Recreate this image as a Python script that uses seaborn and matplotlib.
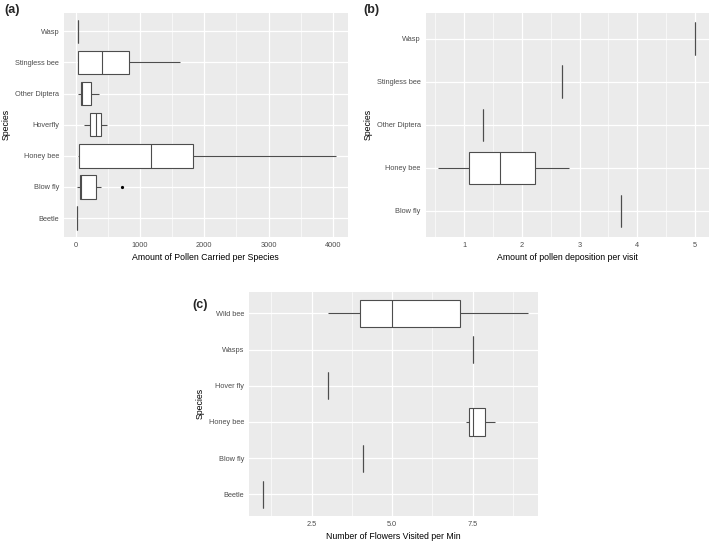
import numpy as np
import pandas as pd
import matplotlib.pyplot as plt
import seaborn as sns
from matplotlib.ticker import MultipleLocator

species_a = ["Wasp", "Stingless bee", "Other Diptera", "Hoverfly", "Honey bee", "Blow fly", "Beetle"]
values_a = [
    [30],
    [30, 30, 418, 826, 1618],
    [41, 77, 103, 247, 366],
    [134, 227, 310, 397, 485],
    [30, 60, 1171, 1822, 4050],
    [25, 50, 71, 76, 82, 200, 325, 397, 717],
    [15],
]

# (b) pollen deposition per visit
species_b = ["Wasp", "Stingless bee", "Other Diptera", "Honey bee", "Blow fly"]
values_b = [
    [5.0],
    [2.69],
    [1.32],
    [0.555, 1.09, 1.62, 2.225, 2.815],
    [3.72],
]

# (c) flowers visited per minute
species_c = ["Wild bee", "Wasps", "Hover fly", "Honey bee", "Blow fly", "Beetle"]
values_c = [
    [3.0, 4.0, 5.0, 7.12, 9.22],
    [7.5],
    [3.0],
    [7.31, 7.38, 7.5, 7.87, 8.2],
    [4.1],
    [1.0],
]


def to_long(species, values):
    rows = [(s, v) for s, vals in zip(species, values) for v in vals]
    return pd.DataFrame(rows, columns=["Species", "value"])


sns.set_theme(style="darkgrid", rc={"axes.facecolor": "#EBEBEB", "grid.color": "white"})
plt.rcParams["font.family"] = ["Liberation Sans", "DejaVu Sans"]

fig = plt.figure(figsize=(7.09, 5.43), dpi=100)
ax_a = fig.add_axes([0.0903, 0.564, 0.400, 0.4126])
ax_b = fig.add_axes([0.6004, 0.564, 0.3996, 0.4126])
ax_c = fig.add_axes([0.3512, 0.0497, 0.4072, 0.4131])

panels = [
    (ax_a, species_a, values_a, "Amount of Pollen Carried per Species", (-180, 4230), 1000, 500, "(a)"),
    (ax_b, species_b, values_b, "Amount of pollen deposition per visit", (0.335, 5.24), 1, 0.5, "(b)"),
    (ax_c, species_c, values_c, "Number of Flowers Visited per Min", (0.56, 9.52), 2.5, 1.25, "(c)"),
]

for ax, species, values, xlabel, xlim, major, minor, tag in panels:
    df = to_long(species, values)
    sns.boxplot(data=df, x="value", y="Species", order=species, orient="h",
                width=0.75, color="white", linecolor="#4D4D4D", linewidth=0.8,
                whis=1.5, fliersize=1.3, showcaps=False,
                flierprops=dict(marker="o", markerfacecolor="black",
                                markeredgecolor="black"),
                ax=ax)
    ax.set_xlim(*xlim)
    ax.set_ylim(len(species) - 1 + 0.6, -0.6)
    ax.xaxis.set_major_locator(MultipleLocator(major))
    ax.xaxis.set_minor_locator(MultipleLocator(minor))
    if major == 2.5:
        ax.xaxis.set_major_formatter(plt.FormatStrFormatter("%.1f"))
    ax.grid(which="major", color="white", linewidth=0.9)
    ax.grid(which="minor", axis="x", color="white", linewidth=0.45)
    ax.set_axisbelow(True)
    for sp in ax.spines.values():
        sp.set_visible(False)
    ax.tick_params(axis="both", which="major", length=2, width=0.6, color="#333333",
                   labelsize=5.3, labelcolor="#4D4D4D", pad=1.5)
    ax.tick_params(axis="both", which="minor", length=0)
    ax.set_xlabel(xlabel, fontsize=6.3, color="black", labelpad=3)
    ax.set_ylabel("Species", fontsize=6.3, color="black", labelpad=3)
    fig.text(0, 0, tag, fontsize=9, fontweight="bold")

# panel tags placed in pixel positions from the reference
fig.texts[0].set_position((4 / 709, 1 - 13 / 543))
fig.texts[1].set_position((363 / 709, 1 - 13 / 543))
fig.texts[2].set_position((192 / 709, 1 - 308 / 543))

fig.savefig("out.png", dpi=100)
